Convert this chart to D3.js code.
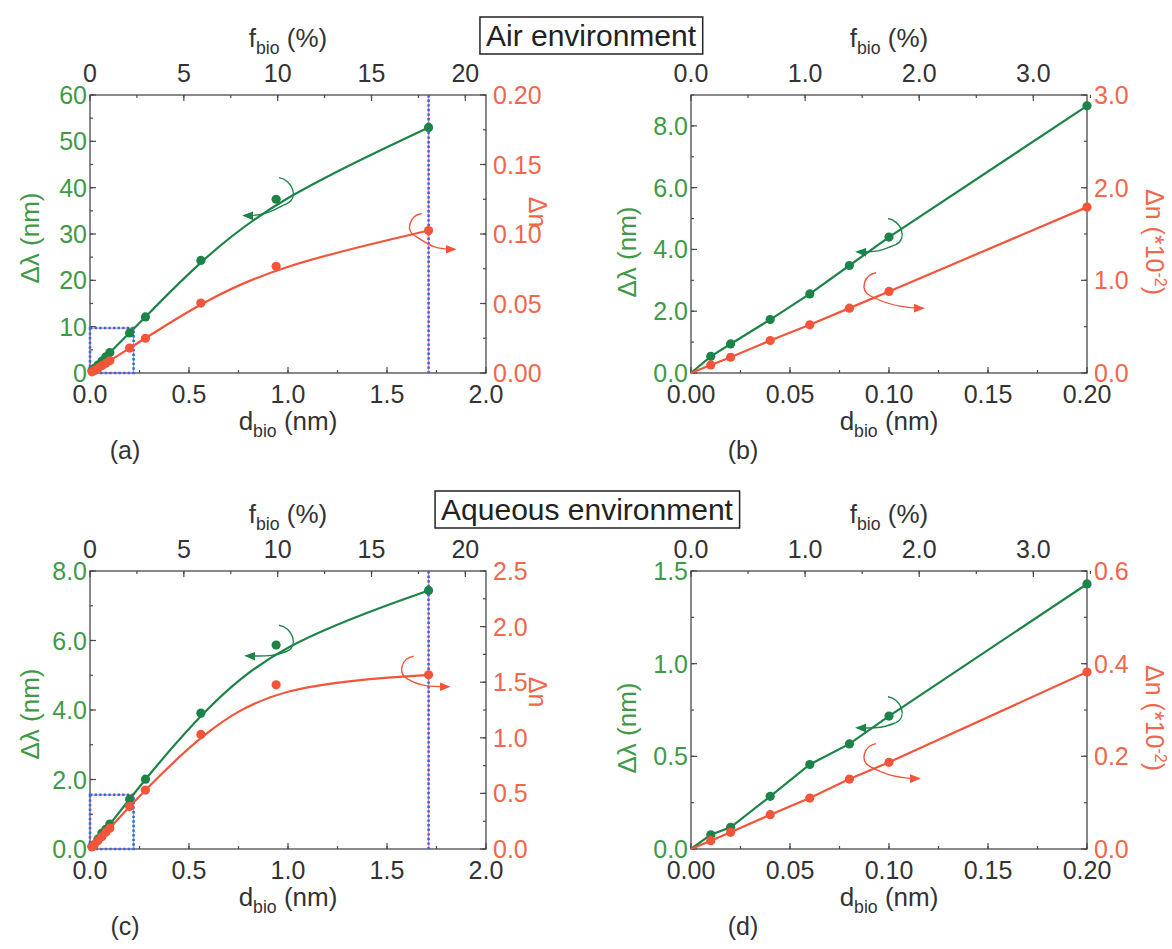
<!DOCTYPE html>
<html>
<head>
<meta charset="utf-8">
<script src="https://cdn.jsdelivr.net/npm/d3@7"></script>
<style>
  body { margin: 0; background: #fff; }
  text { font-family: "Liberation Sans", Arial, sans-serif; }
</style>
</head>
<body>
<div id="chart"></div>
<script>
// biolayer thickness (nm) of the measured points
const dBio = [0.01, 0.02, 0.04, 0.06, 0.08, 0.10, 0.20, 0.28, 0.56, 0.94, 1.71];

// air: wavelength shift (nm) and index change (x10^-2)
const airShift = [0.54, 0.94, 1.73, 2.56, 3.48, 4.40, 8.65, 12.1, 24.3, 37.5, 53.0];
const airIndex = [0.087, 0.17, 0.35, 0.52, 0.70, 0.88, 1.79, 2.5, 5.03, 7.68, 10.25];

// aqueous: wavelength shift (nm) and index change (x10^-2)
const aqShift = [0.077, 0.117, 0.284, 0.456, 0.567, 0.717, 1.43, 2.01, 3.91, 5.87, 7.44];
const aqIndex = [0.018, 0.036, 0.074, 0.110, 0.151, 0.187, 0.382, 0.53, 1.03, 1.476, 1.566];

// dotted zoom boxes [d, shift] and the marker line position
const zoomBoxAir = [0.22, 9.7];
const zoomBoxAq = [0.22, 1.56];
const markLine = 1.71;

// axis tick values
const dTicksWide = [0, 0.5, 1.0, 1.5, 2.0];
const dTicksNarrow = [0, 0.05, 0.10, 0.15, 0.20];
const fTicksWide = [0, 5, 10, 15, 20];
const fTicksNarrow = [0, 1, 2, 3];

// annotation arrows: loop anchor [d, y] and arrow head [d, y]
const arrowsA = { green: [[0.97, 38.5], [0.78, 34]], red: [[1.66, 10.4], [1.84, 8.9]] };
const arrowsB = { green: [[0.101, 4.45], [0.084, 3.92]], red: [[0.092, 0.92], [0.117, 0.70]] };
const arrowsC = { green: [[0.97, 5.95], [0.79, 5.56]], red: [[1.62, 1.6], [1.81, 1.46]] };
const arrowsD = { green: [[0.101, 0.73], [0.084, 0.654]], red: [[0.092, 0.195], [0.115, 0.152]] };

const W = 396, H = 278;
const GREEN = "#1c8449", RED = "#f2553a", GREEN_TXT = "#3f9a47", RED_TXT = "#f1674c", AX = "#4a4a4a";

const svg = d3.select("#chart").append("svg")
  .attr("width", 1172).attr("height", 949);

const defs = svg.append("defs");
[["arrG", GREEN], ["arrR", RED]].forEach(([id, c]) => {
  defs.append("marker").attr("id", id)
    .attr("viewBox", "0 0 10 8").attr("refX", 8).attr("refY", 4)
    .attr("markerWidth", 11).attr("markerHeight", 9)
    .attr("markerUnits", "userSpaceOnUse").attr("orient", "auto")
    .append("path").attr("d", "M0,0 L10,4 L0,8 Z").attr("fill", c);
});

function rng(a, b, s) {
  return d3.range(a, b + s / 2, s);
}

const panels = [
  {
    letter: "(a)", left: 90, top: 95, wide: true,
    shift: airShift, index: airIndex,
    yLeft: [0, 60], leftMajor: [0, 10, 20, 30, 40, 50, 60], leftMinor: rng(0, 60, 5), leftFmt: d3.format("d"),
    yRight: [0, 20], rightMajor: [0, 5, 10, 15, 20], rightMinor: rng(0, 20, 2.5), rightFmt: v => (v / 100).toFixed(2),
    fDomain: [0, 21.1], rightLabel: "plain", rightLabelY: -22, box: zoomBoxAir, arrows: arrowsA
  },
  {
    letter: "(b)", left: 691, top: 95, wide: false,
    shift: airShift, index: airIndex,
    yLeft: [0, 9], leftMajor: [0, 2, 4, 6, 8], leftMinor: rng(0, 9, 1), leftFmt: d3.format(".1f"),
    yRight: [0, 3], rightMajor: [0, 1, 2, 3], rightMinor: rng(0, 3, 0.5), rightFmt: d3.format(".1f"),
    fDomain: [0, 3.47], rightLabel: "scaled", rightLabelY: 8, arrows: arrowsB
  },
  {
    letter: "(c)", left: 90, top: 571, wide: true,
    shift: aqShift, index: aqIndex,
    yLeft: [0, 8], leftMajor: [0, 2, 4, 6, 8], leftMinor: rng(0, 8, 1), leftFmt: d3.format(".1f"),
    yRight: [0, 2.5], rightMajor: [0, 0.5, 1, 1.5, 2, 2.5], rightMinor: rng(0, 2.5, 0.25), rightFmt: d3.format(".1f"),
    fDomain: [0, 21.1], rightLabel: "plain", rightLabelY: -18, box: zoomBoxAq, arrows: arrowsC
  },
  {
    letter: "(d)", left: 691, top: 571, wide: false,
    shift: aqShift, index: aqIndex,
    yLeft: [0, 1.5], leftMajor: [0, 0.5, 1, 1.5], leftMinor: rng(0, 1.5, 0.25), leftFmt: d3.format(".1f"),
    yRight: [0, 0.6], rightMajor: [0, 0.2, 0.4, 0.6], rightMinor: rng(0, 0.6, 0.1), rightFmt: d3.format(".1f"),
    fDomain: [0, 3.47], rightLabel: "scaled", rightLabelY: 8, arrows: arrowsD
  }
];

function subLabel(sel, x, y, main, sub, rest, size) {
  const t = sel.append("text").attr("x", x).attr("y", y)
    .attr("text-anchor", "middle").attr("font-size", size).attr("fill", "#333");
  t.append("tspan").text(main);
  t.append("tspan").attr("font-size", size * 0.68).attr("dy", 7).text(sub);
  t.append("tspan").attr("dy", -7).text(rest);
  return t;
}

function drawPanel(p) {
  const g = svg.append("g");
  const right = p.left + W, bottom = p.top + H;

  const x = d3.scaleLinear().domain(p.wide ? [0, 2] : [0, 0.2]).range([p.left, right]);
  const xf = d3.scaleLinear().domain(p.fDomain).range([p.left, right]);
  const yl = d3.scaleLinear().domain(p.yLeft).range([bottom, p.top]);
  const yr = d3.scaleLinear().domain(p.yRight).range([bottom, p.top]);

  // frame
  g.append("rect").attr("x", p.left).attr("y", p.top).attr("width", W).attr("height", H)
    .attr("fill", "none").attr("stroke", AX).attr("stroke-width", 1.3);

  // ticks, drawn inward
  const tk = g.append("g").attr("stroke", AX).attr("stroke-width", 1.2);
  const dMajor = p.wide ? dTicksWide : dTicksNarrow;
  const dMinor = p.wide ? rng(0, 2, 0.25) : rng(0, 0.2, 0.025);
  const fMajor = p.wide ? fTicksWide : fTicksNarrow;
  const fMinor = p.wide ? rng(0, 20, 2.5) : rng(0, 3.5, 0.5);
  const vt = (vals, len) => vals.forEach(v => {
    tk.append("line").attr("x1", x(v)).attr("x2", x(v)).attr("y1", bottom).attr("y2", bottom - len);
  });
  vt(dMinor, 3); vt(dMajor, 6);
  fMinor.concat(fMajor).forEach((v, i) => {
    const len = i < fMinor.length ? 3 : 6;
    tk.append("line").attr("x1", xf(v)).attr("x2", xf(v)).attr("y1", p.top).attr("y2", p.top + len);
  });
  p.leftMinor.forEach(v => tk.append("line").attr("x1", p.left).attr("x2", p.left + 3).attr("y1", yl(v)).attr("y2", yl(v)));
  p.leftMajor.forEach(v => tk.append("line").attr("x1", p.left).attr("x2", p.left + 6).attr("y1", yl(v)).attr("y2", yl(v)));
  p.rightMinor.forEach(v => tk.append("line").attr("x1", right).attr("x2", right - 3).attr("y1", yr(v)).attr("y2", yr(v)));
  p.rightMajor.forEach(v => tk.append("line").attr("x1", right).attr("x2", right - 6).attr("y1", yr(v)).attr("y2", yr(v)));

  // tick labels
  const fs = 25;
  g.selectAll(".bl").data(dMajor).join("text")
    .attr("x", d => x(d)).attr("y", bottom + 30).attr("text-anchor", "middle")
    .attr("font-size", fs).attr("fill", "#333")
    .text(d => p.wide ? d3.format(".1f")(d) : d3.format(".2f")(d));
  g.selectAll(".tl").data(fMajor).join("text")
    .attr("x", d => xf(d)).attr("y", p.top - 13).attr("text-anchor", "middle")
    .attr("font-size", fs).attr("fill", "#333")
    .text(d => p.wide ? d3.format("d")(d) : d3.format(".1f")(d));
  g.selectAll(".ll").data(p.leftMajor).join("text")
    .attr("x", p.left - 3).attr("y", d => yl(d)).attr("dy", "0.36em").attr("text-anchor", "end")
    .attr("font-size", fs).attr("fill", GREEN_TXT).text(p.leftFmt);
  g.selectAll(".rl").data(p.rightMajor).join("text")
    .attr("x", right + 7).attr("y", d => yr(d)).attr("dy", "0.36em").attr("text-anchor", "start")
    .attr("font-size", fs).attr("fill", RED_TXT).text(p.rightFmt);

  // axis titles
  subLabel(g, (p.left + right) / 2, p.top - 48, "f", "bio", " (%)", 26);
  subLabel(g, (p.left + right) / 2, bottom + 57, "d", "bio", " (nm)", 26);
  g.append("text").attr("x", p.left + (p.wide ? 35 : 52)).attr("y", bottom + 86)
    .attr("text-anchor", "middle").attr("font-size", 25).attr("fill", "#333").text(p.letter);

  const lx = p.wide ? p.left - 60 : p.left - 64;
  const ly = (p.top + bottom) / 2 + (p.wide ? 4 : 18);
  g.append("text").attr("transform", `translate(${lx},${ly}) rotate(-90)`)
    .attr("text-anchor", "middle").attr("dy", "0.36em").attr("font-size", 26)
    .attr("fill", GREEN_TXT).text("\u0394\u03bb (nm)");

  const rt = g.append("text")
    .attr("transform", `translate(${right + (p.wide ? 52 : 68)},${(p.top + bottom) / 2 + p.rightLabelY}) rotate(90)`)
    .attr("text-anchor", "middle").attr("dy", "0.36em").attr("font-size", 25).attr("fill", RED_TXT);
  rt.append("tspan").text("\u0394n");
  if (p.rightLabel === "scaled") {
    rt.append("tspan").text(" (*10");
    rt.append("tspan").attr("font-size", 16).attr("dy", -9).text("-2");
    rt.append("tspan").attr("dy", 9).text(")");
  }

  // dotted guides
  if (p.box) {
    const guide = (sel) => {
      sel.append("path").attr("stroke", "#e87fb0").attr("stroke-width", 1.2).attr("fill", "none");
      sel.append("path").attr("stroke", "#2f6fe0").attr("stroke-width", 2.6)
        .attr("stroke-dasharray", "2.4,2.2").attr("fill", "none");
    };
    const gb = g.append("g"); guide(gb);
    gb.selectAll("path").attr("d",
      `M${x(0)},${yl(p.box[1])}H${x(p.box[0])}V${yl(0)}H${x(0)}Z`);
    const gl = g.append("g"); guide(gl);
    gl.selectAll("path").attr("d", `M${x(markLine)},${p.top}V${bottom}`);
  }

  // series
  const pts = (vals) => dBio.map((d, i) => [d, vals[i]]).filter(v => v[0] <= x.domain()[1] + 1e-9);
  const curve = p.wide ? d3.curveBasis : d3.curveLinear;
  const series = [
    { vals: pts(p.shift), y: yl, color: GREEN },
    { vals: pts(p.index), y: yr, color: RED }
  ];
  series.forEach(s => {
    const line = d3.line().x(d => x(d[0])).y(d => s.y(d[1])).curve(curve);
    g.append("path").datum([[0, 0]].concat(s.vals)).attr("d", line)
      .attr("fill", "none").attr("stroke", s.color).attr("stroke-width", 2.2);
    g.selectAll(null).data(s.vals).join("circle")
      .attr("cx", d => x(d[0])).attr("cy", d => s.y(d[1])).attr("r", 4.6)
      .attr("fill", s.color);
  });

  // annotation arrows
  const ag = p.arrows.green, ar = p.arrows.red;
  let ax = x(ag[0][0]), ay = yl(ag[0][1]), hx = x(ag[1][0]), hy = yl(ag[1][1]);
  g.append("path")
    .attr("d", `M${ax - 3},${ay - 17} C${ax + 10},${ay - 15} ${ax + 17},${ay + 3} ${ax + 5},${ay + 9} C${ax - 6},${ay + 13} ${hx + 24},${hy + 1} ${hx},${hy}`)
    .attr("fill", "none").attr("stroke", GREEN).attr("stroke-width", 1.4).attr("marker-end", "url(#arrG)");
  ax = x(ar[0][0]); ay = yr(ar[0][1]); hx = x(ar[1][0]); hy = yr(ar[1][1]);
  g.append("path")
    .attr("d", `M${ax + 3},${ay - 15} C${ax - 9},${ay - 13} ${ax - 14},${ay + 2} ${ax - 3},${ay + 8} C${ax + 8},${ay + 14} ${hx - 24},${hy} ${hx},${hy}`)
    .attr("fill", "none").attr("stroke", RED).attr("stroke-width", 1.4).attr("marker-end", "url(#arrR)");
}

panels.forEach(drawPanel);

// environment titles in boxes
function titleBox(label, cx, baseline) {
  const box = svg.append("g");
  const rect = box.append("rect");
  const t = box.append("text").attr("x", cx).attr("y", baseline)
    .attr("text-anchor", "middle").attr("font-size", 30).attr("fill", "#222").text(label);
  const b = t.node().getBBox();
  rect.attr("x", b.x - 6).attr("y", b.y - 2)
    .attr("width", b.width + 12).attr("height", b.height + 4)
    .attr("fill", "#fff").attr("stroke", "#222").attr("stroke-width", 1.5);
}
titleBox("Air environment", 591, 46);
titleBox("Aqueous environment", 587, 520);
</script>
</body>
</html>
